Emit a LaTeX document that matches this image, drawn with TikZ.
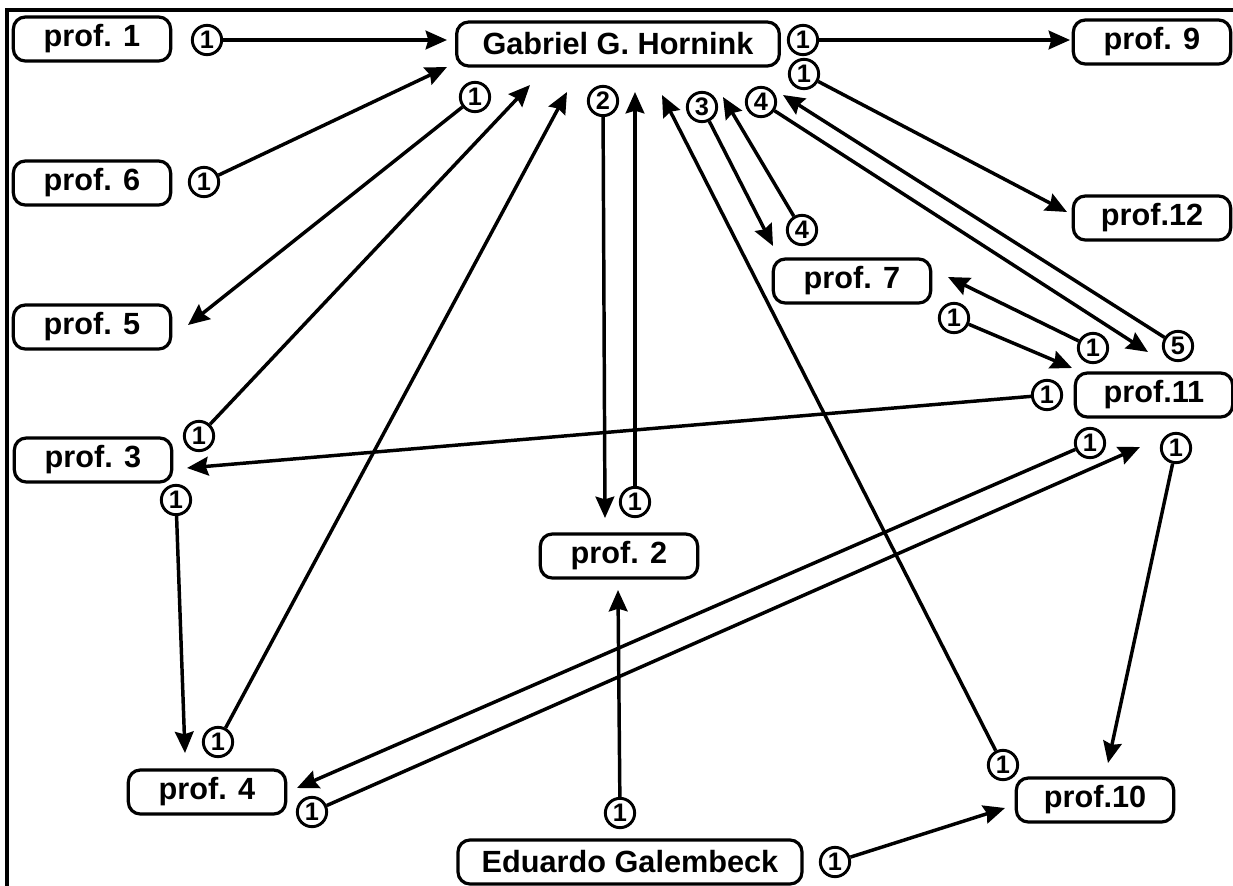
\documentclass[tikz,border=0pt]{standalone}
\usepackage{fontspec}
\setmainfont{Liberation Sans}
\usetikzlibrary{arrows.meta}
\begin{document}
\begin{tikzpicture}[x=0.75pt,y=-0.75pt,
  profbox/.style={draw, line width=2.4pt, rounded corners=9pt,
    font=\fontsize{23}{23}\selectfont\bfseries, minimum height=33pt,
    minimum width=118pt, inner sep=0pt},
  num/.style={draw, circle, line width=2.2pt, minimum size=22pt, inner sep=0pt,
    font=\fontsize{19}{19}\selectfont\bfseries},
  arr/.style={line width=2.6pt, -{Stealth[length=16pt,width=14pt,inset=2pt]}}
]
\useasboundingbox (0,0) rectangle (1233,886);
% frame
\draw[line width=2.6pt] (7,886) -- (7,10) -- (1233,10);

% people
\node[profbox, minimum width=242pt] (gab) at (618,44) {Gabriel G. Hornink};
\node[profbox, minimum width=258pt] (edu) at (630,862) {Eduardo Galembeck};
\node[profbox] (p1)  at (92,39)    {prof. 1};
\node[profbox] (p6)  at (92,183)   {prof. 6};
\node[profbox] (p5)  at (92,327)   {prof. 5};
\node[profbox] (p3)  at (93,460)   {prof. 3};
\node[profbox] (p4)  at (207,792)  {prof. 4};
\node[profbox] (p2)  at (619,556)  {prof. 2};
\node[profbox] (p7)  at (852,281)  {prof. 7};
\node[profbox] (p9)  at (1152,42)  {prof. 9};
\node[profbox] (p12) at (1152,218) {prof.12};
\node[profbox] (p11) at (1154,395) {prof.11};
\node[profbox] (p10) at (1095,800) {prof.10};

% counts
\node[num] (n1)  at (207,40)   {1};
\node[num] (n6)  at (204,182)  {1};
\node[num] (ng5) at (475,97)   {1};
\node[num] (n3a) at (199,436)  {1};
\node[num] (n4a) at (218,742)  {1};
\node[num] (ng2) at (603,101)  {2};
\node[num] (n2)  at (635,502)  {1};
\node[num] (n10a) at (1003,765) {1};
\node[num] (ng3) at (702,107)  {3};
\node[num] (n7a) at (802,230)  {4};
\node[num] (ng4) at (761,102)  {4};
\node[num] (n11a) at (1178,346) {5};
\node[num] (ng9) at (803,40)   {1};
\node[num] (ng12) at (804,74)  {1};
\node[num] (n7b) at (954,318)  {1};
\node[num] (n11b) at (1093,348) {1};
\node[num] (n11c) at (1047,395) {1};
\node[num] (n3b) at (176,500)  {1};
\node[num] (n11d) at (1090,443) {1};
\node[num] (n4b) at (312,812)  {1};
\node[num] (n11e) at (1176,448) {1};
\node[num] (ne1) at (620,813)  {1};
\node[num] (ne2) at (835,862)  {1};

% arrow tips beside the boxes
\coordinate (t1)   at (447,40);
\coordinate (t6)   at (447,67);
\coordinate (t5)   at (188,325);
\coordinate (tg3)  at (530,85);
\coordinate (tg4)  at (567,92);
\coordinate (t2a)  at (605,518);
\coordinate (tg2)  at (635,92);
\coordinate (tg10) at (662,95);
\coordinate (t7a)  at (773,246);
\coordinate (tg7)  at (723,97);
\coordinate (t11a) at (1148,352);
\coordinate (tg11) at (783,95);
\coordinate (t9)   at (1070,40);
\coordinate (t12)  at (1067,212);
\coordinate (t11b) at (1072,368);
\coordinate (t7b)  at (948,277);
\coordinate (t3)   at (187,468);
\coordinate (t4a)  at (185,753);
\coordinate (t4b)  at (297,788);
\coordinate (t11c) at (1140,447);
\coordinate (t10a) at (1108,763);
\coordinate (t2b)  at (618,590);
\coordinate (t10b) at (1005,808);

% connectors
\draw[arr] (n1) -- (t1);
\draw[arr] (n6) -- (t6);
\draw[arr] (ng5) -- (t5);
\draw[arr] (n3a) -- (tg3);
\draw[arr] (n4a) -- (tg4);
\draw[arr] (ng2) -- (t2a);
\draw[arr] (n2) -- (tg2);
\draw[arr] (n10a) -- (tg10);
\draw[arr] (ng3) -- (t7a);
\draw[arr] (n7a) -- (tg7);
\draw[arr] (ng4) -- (t11a);
\draw[arr] (n11a) -- (tg11);
\draw[arr] (ng9) -- (t9);
\draw[arr] (ng12) -- (t12);
\draw[arr] (n7b) -- (t11b);
\draw[arr] (n11b) -- (t7b);
\draw[arr] (n11c) -- (t3);
\draw[arr] (n3b) -- (t4a);
\draw[arr] (n11d) -- (t4b);
\draw[arr] (n4b) -- (t11c);
\draw[arr] (n11e) -- (t10a);
\draw[arr] (ne1) -- (t2b);
\draw[arr] (ne2) -- (t10b);
\end{tikzpicture}
\end{document}
